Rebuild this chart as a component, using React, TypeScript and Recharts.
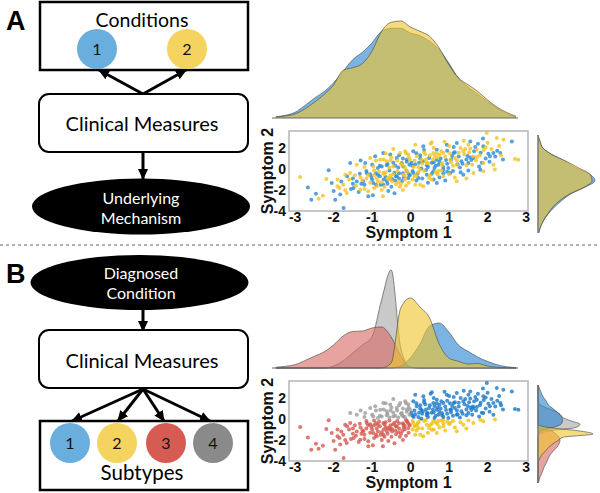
import {
  AreaChart,
  Area,
  ScatterChart,
  Scatter,
  XAxis,
  YAxis,
  ReferenceArea,
  ReferenceLine,
  Label,
} from "recharts";

// scatter points, split by the condition colour used in panel A
const condition1Points = [
  [-2.67, -1.75], [-2.58, -2.92], [-2.46, -2.35], [-2.13, -0.13], [-2.05, -1.33], [-1.96, -2.92],
  [-1.74, -3.71], [-1.83, -2.44], [-1.48, -1.81], [-1.23, -1.17], [-0.97, -1.33], [-0.71, -1.49],
  [-0.36, -0.7], [-0.06, -0.86], [-1.14, -0.38],
  [-1.57, 0.57], [-1.18, 0.57], [-0.92, 1.21], [-0.71, 1.52], [-0.53, 1.37], [-0.36, 1.05],
  [-0.23, 0.57], [-0.1, 0.89], [-0.75, 0.25], [-0.19, 0.25],
  [0.07, -0.38], [0.2, -0.86], [0.42, -0.54], [0.68, -1.33], [1.03, -0.38], [1.37, -0.54],
  [1.81, -0.06], [0.59, -0.22], [0.85, -0.06],
  [0.07, 1.68], [0.33, 2.16], [0.68, 1.84], [0.94, 2.32], [1.2, 2.48], [1.55, 2.63], [1.89, 2.16],
  [2.06, 1.21], [2.33, 1.52], [2.63, 2.63], [1.5, 0.57], [2.15, 1.52], [0.68, 0.89], [1.63, 1.05],
  [1.12, 1.52],
  [-1.4, -1.2], [-1.2, -1.5], [-1.0, -1.0], [-0.9, -0.4], [-0.8, -0.7], [-0.7, -1.0], [-0.6, -1.4],
  [-0.5, -1.7], [-0.4, -1.1], [-0.3, -0.9], [-0.2, -0.4], [-0.1, -0.2], [-0.02, -0.6], [-1.55, -1.9],
  [-1.35, -2.2], [-1.15, -0.2], [-0.98, -2.5], [-0.78, -1.5], [-0.58, -2.1], [-0.38, -0.7],
  [-0.18, -0.8], [-1.8, -1.2], [-1.65, -0.7], [-2.0, -2.1], [-1.5, -1.4], [-0.9, -1.5], [-0.3, -0.4],
  [-0.42, -2.3], [-1.1, -2.6], [-0.55, -0.15], [-1.02, -0.75], [-0.62, -1.15], [-1.32, -0.45],
  [-1.0, 0.4], [-0.8, 0.3], [-0.6, 0.5], [-0.4, 0.3], [-0.3, 1.3], [-0.2, 1.0], [-0.1, 0.7],
  [-0.03, 0.4], [-1.3, 0.8], [-0.45, 0.6], [-0.85, 0.1],
  [0.05, -0.2], [0.15, -1.1], [0.3, -0.9], [0.45, -1.3], [0.6, -1.0], [0.75, -0.8], [0.9, -1.1],
  [1.1, -0.2], [1.3, -0.3], [1.5, -0.15], [0.4, -0.1], [0.95, -0.25],
  [0.05, 0.3], [0.15, 1.5], [0.25, 1.0], [0.35, 1.8], [0.45, 0.2], [0.55, 0.6], [0.65, 0.3],
  [0.75, 0.7], [0.85, 0.2], [0.95, 0.5], [1.05, 0.9], [1.15, 1.6], [1.25, 1.2], [1.35, 0.5],
  [1.45, 0.9], [1.55, 1.1], [1.65, 1.7], [1.75, 2.4], [1.85, 0.6], [1.95, 1.0], [2.05, 0.7],
  [2.2, 1.2], [2.4, 0.9], [0.28, 0.05], [0.78, 1.0], [1.28, 0.15], [1.78, 0.25], [0.62, 0.1],
  [1.12, 2.1], [0.22, 0.6], [0.98, 0.1], [1.88, 2.9], [0.42, 0.35], [1.22, 0.45], [1.68, 2.1],
  [-0.85, -0.55], [-0.65, -0.75], [-0.42, -0.35], [-0.22, -1.15], [-0.05, -0.45], [0.12, 0.45],
  [0.32, 0.75], [0.48, 1.05], [0.72, 0.4], [0.92, 0.85], [1.08, 1.25], [1.32, 0.75], [1.58, 0.85],
  [1.82, 1.55], [2.02, 1.45], [0.18, -0.45], [0.55, -0.45], [0.85, -0.4], [-0.32, 0.15],
  [-0.62, 0.35], [-1.05, -0.5], [-1.28, -1.4], [-0.48, -0.95], [0.25, 1.3], [0.95, 1.75],
  [1.48, 1.25], [2.25, 1.75], [-1.5, -0.9], [0.02, 0.6], [0.6, 0.65],
];

const condition2Points = [
  [-2.87, -0.76], [-2.39, -2.83], [-2.28, -2.54], [-2.19, -0.95], [-1.9, -1.65], [-1.66, -2.29],
  [-1.57, -0.38], [-1.31, -1.97], [-1.1, -2.13], [-0.88, -1.65], [-0.53, -1.02], [-0.19, -0.54],
  [-0.71, -0.38], [-1.7, -0.54],
  [-1.4, 0.41], [-1.05, 1.05], [-0.79, 0.89], [-0.62, 0.73], [-0.45, 1.9], [-0.27, 1.52],
  [-0.14, 1.68], [-0.06, 1.37], [-0.45, 0.25], [-0.97, 0.25],
  [0.12, -1.49], [0.33, -1.65], [0.55, -1.02], [0.85, -0.7], [1.2, -1.17], [1.63, -0.38],
  [1.89, -0.22], [2.19, -0.05], [0.25, -0.06],
  [0.16, 1.21], [0.55, 2.54], [0.85, 1.52], [1.03, 0.89], [1.37, 1.68], [1.72, 1.84], [1.98, 3.43],
  [2.24, 2.95], [2.41, 2.79], [2.71, 0.95], [2.8, 0.89], [1.89, 0.57], [0.42, 0.57], [1.2, 0.41],
  [0.59, 1.52],
  [-1.3, -0.8], [-1.1, -0.6], [-0.95, -1.8], [-0.85, -1.2], [-0.75, -2.0], [-0.65, -0.3],
  [-0.55, -0.8], [-0.45, -0.5], [-0.35, -0.2], [-0.25, -1.4], [-0.15, -1.0], [-0.05, -1.3],
  [-1.6, -1.0], [-1.45, -0.6], [-1.25, -1.1], [-1.05, -1.3], [-0.88, -0.9], [-0.68, -0.5],
  [-0.48, -1.2], [-0.28, -1.7], [-0.08, -0.3], [-1.7, -2.0], [-1.9, -1.0], [-1.75, -1.5],
  [-1.2, -1.9], [-0.6, -0.9], [-0.12, -1.6], [-0.72, -2.6], [-0.2, -2.0], [-0.95, -0.15],
  [-0.82, -0.25], [-0.32, -1.25], [-0.15, -0.65],
  [-0.9, 0.8], [-0.7, 0.9], [-0.5, 1.1], [-0.35, 0.8], [-0.25, 0.5], [-0.15, 0.2], [-0.05, 1.1],
  [-1.2, 0.2], [-0.65, 1.5], [-0.12, 1.5], [-0.55, 0.15],
  [0.1, -0.7], [0.2, -0.3], [0.35, -0.2], [0.5, -0.6], [0.65, -0.3], [0.8, -0.15], [1.0, -0.5],
  [1.15, -0.8], [1.45, -0.9], [0.25, -1.5], [0.7, -0.5], [0.05, -1.0],
  [0.1, 0.8], [0.2, 0.2], [0.3, 0.5], [0.4, 0.9], [0.5, 1.3], [0.6, 2.0], [0.7, 1.1], [0.8, 1.7],
  [0.9, 1.2], [1.0, 2.2], [1.1, 0.3], [1.2, 0.8], [1.3, 2.0], [1.4, 1.4], [1.5, 2.3], [1.6, 0.4],
  [1.7, 0.8], [1.8, 1.3], [1.9, 1.8], [2.0, 2.5], [2.1, 1.9], [2.3, 2.2], [0.12, 2.3], [0.52, 2.4],
  [1.02, 1.5], [1.52, 1.6], [0.38, 1.4], [0.88, 2.6], [1.38, 2.7], [0.68, 1.5], [1.62, 1.2],
  [2.15, 0.4], [0.82, 0.55], [1.42, 1.9], [0.58, 0.9],
  [-0.95, -0.6], [-0.75, -1.25], [-0.52, -0.6], [-0.38, -1.45], [-0.12, -0.1], [0.08, 0.2],
  [0.28, 0.85], [0.45, 0.55], [0.62, 1.25], [0.82, 0.35], [1.05, 0.65], [1.25, 1.55], [1.45, 0.35],
  [1.72, 1.15], [1.95, 2.05], [0.15, -0.6], [0.48, -0.85], [0.72, -0.2], [-0.22, 0.35],
  [-0.52, 0.8], [-1.15, -0.9], [-1.42, -1.6], [-0.68, -1.7], [0.35, 1.6], [1.15, 1.05],
  [1.55, 1.95], [2.35, 1.3], [-1.85, -1.8], [-0.02, 0.9], [0.75, 1.35],
];

const symptom1Ticks = [-3, -2, -1, 0, 1, 2, 3];
const symptom2Ticks = [-4, -2, 0, 2];

// top marginal densities (Symptom 1)
const densityGrid = [
  -3.5, -3.25, -3.0, -2.75, -2.5, -2.25, -2.0, -1.75, -1.5, -1.25, -1.0, -0.75, -0.5,
  -0.25, 0, 0.25, 0.5, 0.75, 1.0, 1.25, 1.5, 1.75, 2.0, 2.25, 2.5, 2.75,
];
const densityCondition1 = [
  1.3, 2.7, 5.7, 12.3, 19.7, 26.3, 35, 46.7, 58.3, 65.7, 75, 86.7, 89.7, 89.7, 85, 82.3, 76.7,
  68.3, 55, 40, 31, 24, 16.7, 10, 4.3, 1,
];
const densityCondition2 = [
  1, 2, 4, 9, 15.7, 23.3, 33, 47.7, 50.3, 54.3, 66.7, 86.7, 95.7, 97, 91, 86.7, 81.7, 70, 53.3,
  40, 33.3, 26.7, 18.3, 11, 5.7, 1.7,
];
const densitySubtype1 = [
  0, 0, 0, 0, 0, 0, 0, 0, 0, 0, 0, 0, 0, 2, 10, 24, 42, 45, 36, 23, 16.7, 11, 6.7, 3.3, 1.3, 0.3,
];
const densitySubtype2 = [
  0, 0, 0, 0, 0, 0, 0, 0, 0, 0, 0, 0, 5, 60, 70, 61, 50, 24, 10, 6.7, 4, 4.5, 2, 0.7, 0.3, 0,
];
const densitySubtype3 = [
  0.7, 1.7, 3.3, 7.3, 11.7, 16, 23, 32, 36.5, 37, 40, 41, 31, 12, 1, 0, 0, 0, 0, 0, 0, 0, 0, 0, 0, 0,
];
const densitySubtype4 = [
  0, 0, 0, 0, 0, 0, 2, 7, 15, 23, 31, 68, 98, 20, 0.5, 0, 0, 0, 0, 0, 0, 0, 0, 0, 0, 0,
];

// right marginal densities (Symptom 2), listed top to bottom
const sideGridA = [3.5, 3.0, 2.5, 2.0, 1.5, 1.0, 0.5, 0, -0.5, -1.0, -1.5, -2.0, -2.5, -3.0, -3.5, -4.0];
const sideCondition1 = [0, 2, 5, 14, 27, 37, 51.7, 57, 46.7, 33, 24, 16.7, 10.7, 6, 2.7, 0.7];
const sideCondition2 = [0, 2, 5, 14, 28, 40, 52, 54, 46, 32, 22, 15, 10, 5.7, 2.7, 0.7];

const sideGridB = [
  3.5, 3.25, 3.0, 2.75, 2.5, 2.25, 2.0, 1.75, 1.5, 1.25, 1.0, 0.75, 0.5, 0.25, 0, -0.25, -0.5,
  -0.75, -1.0, -1.25, -1.5, -1.75, -2.0, -2.25, -2.5, -2.75, -3.0, -3.25, -3.5, -3.75, -4.0,
];
const sideSubtype1 = [
  0.3, 1.5, 2.7, 4, 6, 8.5, 10, 14, 18, 22, 24, 24.5, 23, 15, 3, 0.5, 0, 0, 0, 0, 0, 0, 0, 0, 0, 0,
  0, 0, 0, 0, 0,
];
const sideSubtype2 = [
  0, 0, 0, 0, 0, 0, 0, 0, 0, 0, 0, 0, 0, 10, 40, 55, 25, 20, 15, 11, 8, 5, 2.5, 1, 0, 0, 0, 0, 0, 0, 0,
];
const sideSubtype3 = [
  0, 0, 0, 0, 0, 0, 0, 0, 0, 0, 0, 0, 0, 0, 13, 18, 21, 22, 21, 19, 16, 13, 11, 9.5, 8, 6.3, 5, 3.7,
  2.3, 1.3, 0.3,
];
const sideSubtype4 = [
  0, 0, 0, 0, 0, 0, 2, 8, 17, 22, 25, 33, 42, 38, 12, 2, 0, 0, 0, 0, 0, 0, 0, 0, 0, 0, 0, 0, 0, 0, 0,
];

const AREA = { blue: "#2a86d2", yellow: "#f0c52e", red: "#d66b66", gray: "#a8a8a8" };
const DOT_A = { blue: "#2b8ad4", yellow: "#f2c31c" };
const DOT_B = { blue: "#1a78c8", yellow: "#f0bf10", red: "#d4574e", gray: "#9c9c9c" };
const NODE = { blue: "#6aaedd", yellow: "#f4d35e", red: "#d65b52", gray: "#8a8a8a" };

const toXY = (p: number[]) => ({ x: p[0], y: p[1] });
const allPoints = [...condition1Points, ...condition2Points].map(toXY);

const scatterA = [
  { key: "c1", color: DOT_A.blue, data: condition1Points.map(toXY) },
  { key: "c2", color: DOT_A.yellow, data: condition2Points.map(toXY) },
];
const scatterB = [
  { key: "s3", color: DOT_B.red, data: allPoints.filter((p) => p.x < 0 && p.y < 0) },
  { key: "s4", color: DOT_B.gray, data: allPoints.filter((p) => p.x < 0 && p.y >= 0) },
  { key: "s2", color: DOT_B.yellow, data: allPoints.filter((p) => p.x >= 0 && p.y < 0) },
  { key: "s1", color: DOT_B.blue, data: allPoints.filter((p) => p.x >= 0 && p.y >= 0) },
];

type Series = { key: string; color: string; values: number[] };

function TopDensity({ top, series }: { top: number; series: Series[] }) {
  const rows = densityGrid.map((x, i) => {
    const r: Record<string, number> = { x };
    series.forEach((s) => (r[s.key] = s.values[i]));
    return r;
  });
  return (
    <div style={{ position: "absolute", left: 272, top, width: 246, height: 102 }}>
      <AreaChart width={246} height={102} data={rows} margin={{ top: 1, right: 0, bottom: 1, left: 0 }}>
        <XAxis type="number" dataKey="x" domain={[-3.6, 2.8]} hide />
        <YAxis type="number" domain={[0, 100]} hide />
        {series.map((s) => (
          <Area
            key={s.key}
            type="monotone"
            dataKey={s.key}
            fill={s.color}
            fillOpacity={0.62}
            stroke="#4a4a4a"
            strokeOpacity={0.8}
            strokeWidth={0.8}
            dot={false}
            activeDot={false}
            isAnimationActive={false}
          />
        ))}
        <ReferenceLine y={0} stroke="#666" strokeWidth={1.2} />
      </AreaChart>
    </div>
  );
}

function SideDensity({ top, grid, series }: { top: number; grid: number[]; series: Series[] }) {
  const rows = grid.map((y, i) => {
    const r: Record<string, number> = { y };
    series.forEach((s) => (r[s.key] = s.values[i]));
    return r;
  });
  return (
    <div style={{ position: "absolute", left: 537, top, width: 60, height: 98 }}>
      <AreaChart
        layout="vertical"
        width={60}
        height={98}
        data={rows}
        margin={{ top: 0, right: 1, bottom: 0, left: 1 }}
      >
        <XAxis type="number" domain={[0, 58]} hide />
        <YAxis type="number" dataKey="y" domain={[-4, 3.5]} reversed hide />
        {series.map((s) => (
          <Area
            key={s.key}
            type="monotone"
            dataKey={s.key}
            fill={s.color}
            fillOpacity={0.62}
            stroke="#4a4a4a"
            strokeOpacity={0.8}
            strokeWidth={0.8}
            dot={false}
            activeDot={false}
            isAnimationActive={false}
          />
        ))}
        <ReferenceLine x={0} stroke="#777" strokeWidth={1.5} />
      </AreaChart>
    </div>
  );
}

const tickStyle = { fill: "#111", fontSize: 14, fontWeight: 700, fontFamily: "'Liberation Sans', Arial, sans-serif" };
const axisLabelStyle = { fill: "#111", fontSize: 16, fontWeight: 700, fontFamily: "'Liberation Sans', Arial, sans-serif" };

function ScatterPanel({ top, groups }: { top: number; groups: { key: string; color: string; data: { x: number; y: number }[] }[] }) {
  return (
    <div style={{ position: "absolute", left: 250, top, width: 290, height: 125 }}>
      <ScatterChart width={290} height={125} margin={{ top: 11, right: 12, bottom: 0, left: 0 }}>
        <XAxis
          type="number"
          dataKey="x"
          domain={[-3.16, 3.05]}
          ticks={symptom1Ticks}
          interval={0}
          allowDataOverflow
          axisLine={false}
          tickLine={false}
          tickSize={0}
          tickMargin={1}
          height={34}
          tick={tickStyle}
        >
          <Label value="Symptom 1" position="insideBottom" offset={7} style={axisLabelStyle} />
        </XAxis>
        <YAxis
          type="number"
          dataKey="y"
          domain={[-4, 3.62]}
          ticks={symptom2Ticks}
          interval={0}
          allowDataOverflow
          axisLine={false}
          tickLine={false}
          tickSize={3}
          tickMargin={0}
          width={39}
          tick={tickStyle}
        >
          <Label
            value="Symptom 2"
            angle={-90}
            position="insideLeft"
            offset={17}
            style={{ ...axisLabelStyle, textAnchor: "middle" }}
          />
        </YAxis>
        <ReferenceArea
          x1={-3.16}
          x2={3.05}
          y1={-4}
          y2={3.62}
          fill="none"
          stroke="#b5b5b5"
          strokeWidth={1.5}
          ifOverflow="visible"
        />
        {groups.map((g) => (
          <Scatter
            key={g.key}
            data={g.data}
            fill={g.color}
            isAnimationActive={false}
            shape={(p: any) => <circle cx={p.cx} cy={p.cy} r={2} fill={g.color} fillOpacity={0.8} />}
          />
        ))}
      </ScatterChart>
    </div>
  );
}

const flowFont = "Lato, 'Open Sans', sans-serif";

function Node({ cx, cy, color, n }: { cx: number; cy: number; color: string; n: string }) {
  return (
    <g>
      <circle cx={cx} cy={cy} r={20} fill={color} />
      <text x={cx} y={cy + 6} textAnchor="middle" fontSize={16} fontFamily={flowFont} fill="#111">
        {n}
      </text>
    </g>
  );
}

function Flowchart() {
  return (
    <svg width={600} height={493} style={{ position: "absolute", left: 0, top: 0 }}>
      <defs>
        <marker id="head" markerUnits="userSpaceOnUse" markerWidth={12} markerHeight={12} refX={10} refY={6} orient="auto">
          <path d="M0,1 L11,6 L0,11 z" fill="#000" />
        </marker>
      </defs>
      <line x1={0} x2={600} y1={245} y2={245} stroke="#999" strokeWidth={1.5} strokeDasharray="3 3" />

      {/* panel A */}
      <text x={6} y={30} fontSize={27} fontWeight={700} fontFamily="'Liberation Sans', Arial, sans-serif">A</text>
      <rect x={40} y={2} width={208} height={68} fill="#fff" stroke="#000" strokeWidth={2.5} />
      <text x={142} y={27} textAnchor="middle" fontSize={19.5} fontFamily={flowFont}>Conditions</text>
      <Node cx={97} cy={49} color={NODE.blue} n="1" />
      <Node cx={187} cy={49} color={NODE.yellow} n="2" />
      <line x1={143} y1={94} x2={99} y2={70} stroke="#000" strokeWidth={3} markerEnd="url(#head)" />
      <line x1={143} y1={94} x2={186} y2={70} stroke="#000" strokeWidth={3} markerEnd="url(#head)" />
      <rect x={39} y={94} width={209} height={58} rx={10} fill="#fff" stroke="#000" strokeWidth={2} />
      <text x={142} y={131} textAnchor="middle" fontSize={20} fontFamily={flowFont}>Clinical Measures</text>
      <line x1={143} y1={152} x2={143} y2={179} stroke="#000" strokeWidth={3} markerEnd="url(#head)" />
      <ellipse cx={141} cy={206.5} rx={109} ry={28} fill="#000" />
      <text x={141} y={204} textAnchor="middle" fontSize={16} fill="#fff" fontFamily={flowFont}>Underlying</text>
      <text x={141} y={224} textAnchor="middle" fontSize={16} fill="#fff" fontFamily={flowFont}>Mechanism</text>

      {/* panel B */}
      <text x={6} y={283} fontSize={27} fontWeight={700} fontFamily="'Liberation Sans', Arial, sans-serif">B</text>
      <ellipse cx={139.5} cy={282.5} rx={109} ry={27.5} fill="#000" />
      <text x={141} y={279} textAnchor="middle" fontSize={16} fill="#fff" fontFamily={flowFont}>Diagnosed</text>
      <text x={141} y={299} textAnchor="middle" fontSize={16} fill="#fff" fontFamily={flowFont}>Condition</text>
      <line x1={143} y1={309} x2={143} y2={331} stroke="#000" strokeWidth={3} markerEnd="url(#head)" />
      <rect x={39} y={330} width={209} height={58} rx={10} fill="#fff" stroke="#000" strokeWidth={2} />
      <text x={142} y={368} textAnchor="middle" fontSize={20} fontFamily={flowFont}>Clinical Measures</text>
      <rect x={40} y={421} width={208} height={69} fill="#fff" stroke="#000" strokeWidth={2.5} />
      {[72, 118, 164, 210].map((tx) => (
        <line key={tx} x1={143} y1={389} x2={tx} y2={421} stroke="#000" strokeWidth={3} markerEnd="url(#head)" />
      ))}
      <Node cx={70} cy={443} color={NODE.blue} n="1" />
      <Node cx={117} cy={443} color={NODE.yellow} n="2" />
      <Node cx={166} cy={443} color={NODE.red} n="3" />
      <Node cx={213} cy={443} color={NODE.gray} n="4" />
      <text x={142} y={480} textAnchor="middle" fontSize={20.5} fontFamily={flowFont}>Subtypes</text>
    </svg>
  );
}

export default function App() {
  return (
    <div style={{ position: "absolute", left: 0, top: 0, width: 600, height: 493, background: "#fff", overflow: "hidden" }}>
      <Flowchart />
      <TopDensity
        top={17}
        series={[
          { key: "c1", color: AREA.blue, values: densityCondition1 },
          { key: "c2", color: AREA.yellow, values: densityCondition2 },
        ]}
      />
      <ScatterPanel top={120} groups={scatterA} />
      <SideDensity
        top={135}
        grid={sideGridA}
        series={[
          { key: "c1", color: AREA.blue, values: sideCondition1 },
          { key: "c2", color: AREA.yellow, values: sideCondition2 },
        ]}
      />
      <TopDensity
        top={267}
        series={[
          { key: "s4", color: AREA.gray, values: densitySubtype4 },
          { key: "s3", color: AREA.red, values: densitySubtype3 },
          { key: "s1", color: AREA.blue, values: densitySubtype1 },
          { key: "s2", color: AREA.yellow, values: densitySubtype2 },
        ]}
      />
      <ScatterPanel top={370} groups={scatterB} />
      <SideDensity
        top={385}
        grid={sideGridB}
        series={[
          { key: "s4", color: AREA.gray, values: sideSubtype4 },
          { key: "s3", color: AREA.red, values: sideSubtype3 },
          { key: "s1", color: AREA.blue, values: sideSubtype1 },
          { key: "s2", color: AREA.yellow, values: sideSubtype2 },
        ]}
      />
    </div>
  );
}
